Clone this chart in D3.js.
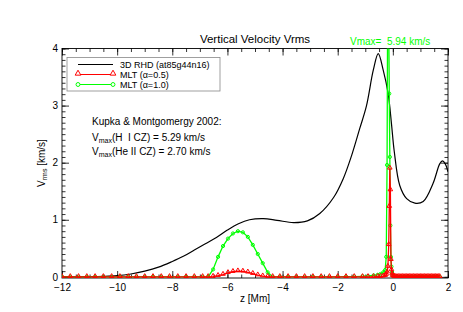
<!DOCTYPE html>
<html><head><meta charset="utf-8">
<script src="https://cdn.jsdelivr.net/npm/d3@7"></script>
<style>
body{margin:0;background:#fff;}
text{font-family:"Liberation Sans",Arial,Helvetica,sans-serif;}
</style></head>
<body><svg id="c" width="463" height="312"></svg>
<script>
const xTicks = [-12,-10,-8,-6,-4,-2,0,2];
const yTicks = [0,1,2,3,4];

const rhdZ = [-12,-11,-10.5,-10,-9.5,-9,-8.5,-8,-7.6,-7.2,-6.8,-6.4,-6.0,-5.6,-5.2,-4.7,-4.2,-3.6,-3.1,-2.65,-2.15,-1.8,-1.5,-1.2,-0.96,-0.71,-0.53,-0.35,-0.17,-0.05,0.05,0.25,0.5,0.8,1.1,1.46,1.7,1.8,1.9,2.0];
const rhdV = [0.0,0.003,0.008,0.02,0.05,0.1,0.17,0.27,0.36,0.47,0.58,0.69,0.82,0.93,1.0,1.02,0.99,0.95,0.98,1.11,1.39,1.72,2.12,2.6,2.99,3.62,3.91,3.62,3.21,2.68,2.2,1.6,1.37,1.29,1.32,1.64,1.98,2.03,1.98,1.84];

const mltZ = [-12,-11.7,-11.4,-11.1,-10.8,-10.5,-10.2,-9.9,-9.6,-9.3,-9.0,-8.7,-8.4,-8.1,-7.8,-7.5,-7.2,-6.9,
  -6.7,-6.52,-6.34,-6.16,-5.98,-5.8,-5.62,-5.44,-5.26,-5.08,-4.9,-4.72,-4.54,-4.36,
  -4.1,-3.8,-3.5,-3.2,-2.9,-2.6,-2.3,-2.0,-1.7,-1.4,-1.1,
  -0.9,-0.7,-0.55,-0.45,-0.35,
  -0.28,-0.24,-0.21,-0.18,-0.15,-0.13,-0.11,-0.09,-0.07,-0.05,-0.03,-0.01,
  0.02,0.06,0.1,
  0.15,0.2,0.25,0.3,0.35,0.4,0.45,0.5,0.55,0.6,0.65,0.7,0.75,0.8,0.85,0.9,0.95,1.0,
  1.05,1.1,1.15,1.2,1.25,1.3,1.35,1.4,1.45,1.5,1.55,1.6,1.65,1.7];
const mltA05 = [0,0,0,0,0,0,0,0,0,0,0,0,0,0,0,0,0,0,
  0,0.005,0.02,0.04,0.07,0.09,0.10,0.095,0.08,0.055,0.03,0.012,0.003,0,
  0,0,0,0,0,0,0,0,0,0,0,
  0,0,0.003,0.005,0.01,
  0.02,0.04,0.08,0.18,0.56,1.23,1.90,1.52,0.30,0.12,0.05,0.02,
  0.01,0.005,0,
  0,0,0,0,0,0,0,0,0,0,0,0,0,0,0,0,0,0,
  0,0,0,0,0,0,0,0,0,0,0,0,0,0];
const mltA10 = [0,0,0,0,0,0,0,0,0,0,0,0,0,0,0,0,0,0,
  0,0.13,0.35,0.54,0.67,0.76,0.80,0.78,0.70,0.56,0.40,0.24,0.08,0,
  0,0,0,0,0,0,0,0,0.003,0.005,0.01,
  0.015,0.025,0.035,0.05,0.08,
  0.12,0.35,1.96,5.94,4.5,3.21,2.10,0.9,0.35,0.18,0.08,0.03,
  0.01,0.005,0,
  0,0,0,0,0,0,0,0,0,0,0,0,0,0,0,0,0,0,
  0,0,0,0,0,0,0,0,0,0,0,0,0,0];

const svg = d3.select("#c");
const L=62,R=448,T=48.5,B=278;
const x = d3.scaleLinear().domain([-12,2]).range([L,R]);
const y = d3.scaleLinear().domain([-0.02,4]).range([B,T]);

svg.append("clipPath").attr("id","clip").append("rect").attr("x",L).attr("y",T).attr("width",R-L).attr("height",B-T);

const xMinor = d3.range(-12,2.001,0.5);
const yMinor = d3.range(0,4.001,0.1);
const fnt = g=>g.selectAll("text").style("font-family","Liberation Sans, Arial, sans-serif").style("font-size","10px").attr("fill","#000");
const clean = g=>{g.select(".domain").remove(); g.selectAll("line").attr("stroke","#000").attr("stroke-width",0.8);};

function axisPair(axisFn, scale, pos, major, minor, labels, majorLen, minorLen, pad){
  const gM = svg.append("g").attr("transform",pos);
  gM.call(axisFn(scale).tickValues(minor).tickSize(-minorLen).tickFormat(""));
  clean(gM);
  const g = svg.append("g").attr("transform",pos);
  const a = axisFn(scale).tickValues(major).tickSize(-majorLen).tickPadding(pad);
  if(!labels) a.tickFormat("");
  else a.tickFormat(d3.format("d"));
  g.call(a); clean(g); fnt(g);
  return g;
}
axisPair(d3.axisBottom, x, `translate(0,${B})`, xTicks, xMinor, true, 7, 3.5, 6);
axisPair(d3.axisTop, x, `translate(0,${T})`, xTicks, xMinor, false, 7, 3.5, 3);
axisPair(d3.axisLeft, y, `translate(${L},0)`, yTicks, yMinor, true, 7, 3.5, 4);
axisPair(d3.axisRight, y, `translate(${R},0)`, yTicks, yMinor, false, 7, 3.5, 3);
svg.append("rect").attr("x",L).attr("y",T).attr("width",R-L).attr("height",B-T).attr("fill","none").attr("stroke","#000").attr("stroke-width",0.9);

svg.append("text").attr("x",255).attr("y",43).attr("text-anchor","middle").style("font-size","11.5px").text("Vertical Velocity Vrms");
svg.append("text").attr("x",350).attr("y",45).attr("fill","#00ff00").style("font-size","10px").attr("xml:space","preserve").text("Vmax=  5.94 km/s");

svg.append("text").attr("x",255).attr("y",302).attr("text-anchor","middle").style("font-size","10px").text("z [Mm]");
const yl = svg.append("text").attr("transform","translate(45,163) rotate(-90)").attr("text-anchor","middle").style("font-size","10px");
yl.append("tspan").text("V");
yl.append("tspan").attr("baseline-shift","-25%").style("font-size","7px").text("rms");
yl.append("tspan").text(" [km/s]");

const plot = svg.append("g").attr("clip-path","url(#clip)");
const rhd = rhdZ.map((z,i)=>[z,rhdV[i]]);
const m05 = mltZ.map((z,i)=>[z,mltA05[i]]);
const m10 = mltZ.map((z,i)=>[z,mltA10[i]]);
const lineC = d3.line().x(d=>x(d[0])).y(d=>y(d[1])).curve(d3.curveCatmullRom.alpha(0.5));
const lineL = d3.line().x(d=>x(d[0])).y(d=>y(d[1]));
plot.append("path").attr("d",lineC(rhd)).attr("fill","none").attr("stroke","#000").attr("stroke-width",1.2);

const tri = d3.symbol().type(d3.symbolTriangle).size(9);
const cir = d3.symbol().type(d3.symbolCircle).size(8);

plot.append("path").attr("d",lineL(m10)).attr("fill","none").attr("stroke","#00ff00").attr("stroke-width",1.3);
plot.selectAll(".gc").data(m10).join("path").attr("d",cir).attr("transform",d=>`translate(${x(d[0])},${y(d[1])})`).attr("fill","none").attr("stroke","#00ff00").attr("stroke-width",1);
plot.append("path").attr("d",lineL(m05)).attr("fill","none").attr("stroke","#ff0000").attr("stroke-width",1.3);
plot.selectAll(".rt").data(m05).join("path").attr("d",tri).attr("transform",d=>`translate(${x(d[0])},${y(d[1])-0.6})`).attr("fill","none").attr("stroke","#ff0000").attr("stroke-width",1);

const lg = svg.append("g");
lg.append("rect").attr("x",67).attr("y",57.5).attr("width",153).attr("height",33.5).attr("fill","#fff").attr("stroke","#888").attr("stroke-width",0.8);
const lx1=78,lx2=113;
const legendLabels = ["3D RHD (at85g44n16)","MLT (\u03b1=0.5)","MLT (\u03b1=1.0)"];
const ly = [64.5,74.5,84.5];
const tri2 = d3.symbol().type(d3.symbolTriangle).size(14);
const cir2 = d3.symbol().type(d3.symbolCircle).size(12);
lg.append("line").attr("x1",lx1).attr("x2",lx2).attr("y1",ly[0]).attr("y2",ly[0]).attr("stroke","#000").attr("stroke-width",1.2);
lg.append("line").attr("x1",lx1).attr("x2",lx2).attr("y1",ly[1]).attr("y2",ly[1]).attr("stroke","#ff0000").attr("stroke-width",1.2);
lg.append("line").attr("x1",lx1).attr("x2",lx2).attr("y1",ly[2]).attr("y2",ly[2]).attr("stroke","#00ff00").attr("stroke-width",1.2);
[lx1,lx2].forEach(px=>{
  lg.append("path").attr("d",tri2).attr("transform",`translate(${px},${ly[1]-1})`).attr("fill","#fff").attr("stroke","#ff0000").attr("stroke-width",1);
  lg.append("path").attr("d",cir2).attr("transform",`translate(${px},${ly[2]})`).attr("fill","#fff").attr("stroke","#00ff00").attr("stroke-width",1);
});
legendLabels.forEach((t,i)=>lg.append("text").attr("x",120).attr("y",ly[i]+3.3).style("font-size","9px").text(t));

svg.append("text").attr("x",92).attr("y",125).style("font-size","10px").text("Kupka & Montgomergy 2002:");
function vmax(yy, rest){
  const t = svg.append("text").attr("x",92).attr("y",yy).style("font-size","10px").attr("xml:space","preserve");
  t.append("tspan").text("V");
  t.append("tspan").attr("baseline-shift","-25%").style("font-size","7px").text("max");
  t.append("tspan").text(rest);
}
vmax(141,"(H  I CZ) = 5.29 km/s");
vmax(155,"(He II CZ) = 2.70 km/s");
</script></body></html>
